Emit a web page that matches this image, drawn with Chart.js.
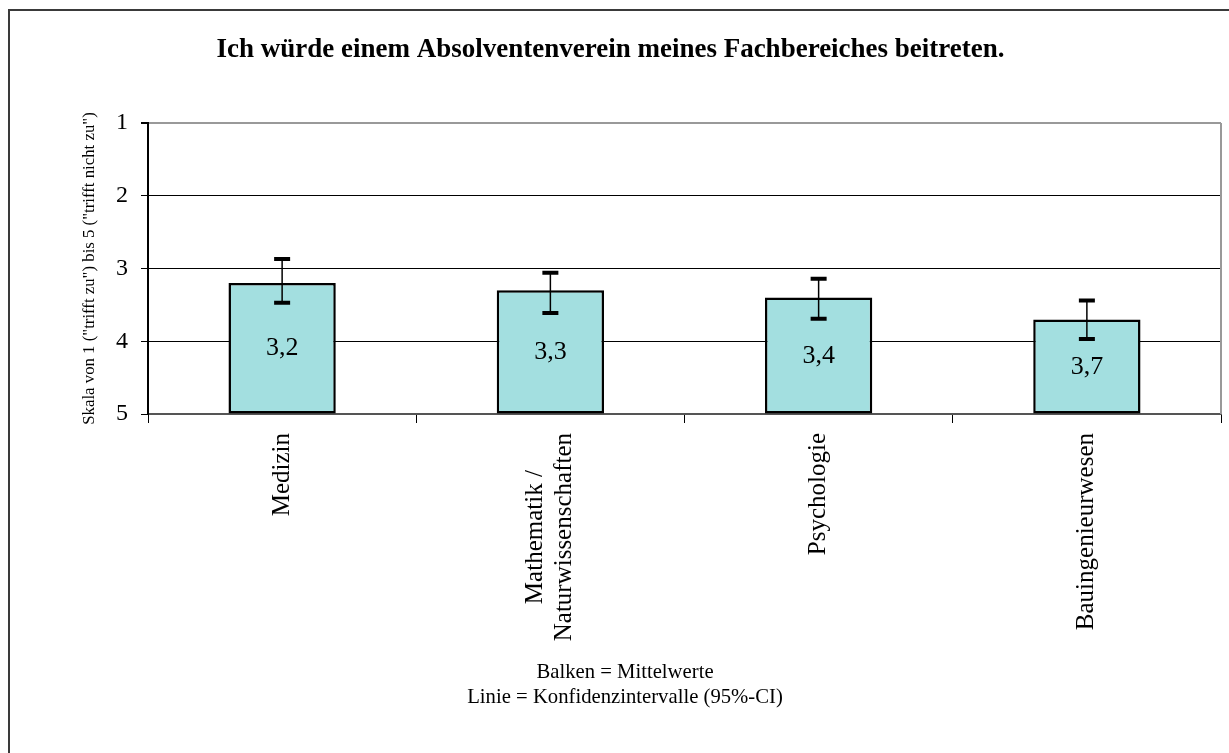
<!DOCTYPE html>
<html>
<head>
<meta charset="utf-8">
<script src="https://cdn.jsdelivr.net/npm/chart.js@4"></script>
<style>
  body { margin: 0; background: #fff; }
</style>
</head>
<body>
<canvas id="meanChart" width="1229" height="753"></canvas>
<script>
// data (scale 1 = "trifft zu", 5 = "trifft nicht zu")
var categories = [["Medizin"], ["Mathematik /", "Naturwissenschaften"], ["Psychologie"], ["Bauingenieurwesen"]];
var means = [3.2, 3.3, 3.4, 3.7];
var ciLow = [2.87, 3.06, 3.14, 3.44];
var ciHigh = [3.47, 3.61, 3.69, 3.97];
var yTicks = [1, 2, 3, 4, 5];
var notes = ["Balken = Mittelwerte", "Linie = Konfidenzintervalle (95%-CI)"];

var serif = "'Liberation Serif', 'Times New Roman', serif";

// error bars, value labels, category labels, notes and the frame
var decor = {
  id: "decor",
  beforeDraw: function(chart) {
    var ctx = chart.ctx;
    ctx.save();
    ctx.strokeStyle = "#3a3a3a";
    ctx.lineWidth = 2;
    ctx.beginPath();
    ctx.moveTo(9, 753);
    ctx.lineTo(9, 10);
    ctx.lineTo(1229, 10);
    ctx.stroke();
    ctx.restore();
  },
  afterDatasetsDraw: function(chart) {
    var ctx = chart.ctx;
    var xs = chart.scales.x, ys = chart.scales.y, area = chart.chartArea;
    ctx.save();

    // right edge of the plot
    ctx.strokeStyle = "#999";
    ctx.lineWidth = 2;
    ctx.beginPath();
    ctx.moveTo(area.right, area.top);
    ctx.lineTo(area.right, area.bottom);
    ctx.stroke();

    ctx.strokeStyle = "#000";
    ctx.fillStyle = "#000";
    means.forEach(function(m, i) {
      var px = xs.getPixelForValue(i);
      var y1 = ys.getPixelForValue(ciLow[i]);
      var y2 = ys.getPixelForValue(ciHigh[i]);
      ctx.lineWidth = 1.5;
      ctx.beginPath();
      ctx.moveTo(px, y1);
      ctx.lineTo(px, y2);
      ctx.stroke();
      ctx.lineWidth = 4;
      ctx.beginPath();
      ctx.moveTo(px - 8, y1); ctx.lineTo(px + 8, y1);
      ctx.moveTo(px - 8, y2); ctx.lineTo(px + 8, y2);
      ctx.stroke();

      // value inside the bar
      var mid = (ys.getPixelForValue(m) + ys.getPixelForValue(5)) / 2;
      ctx.font = "26px " + serif;
      ctx.textAlign = "center";
      ctx.textBaseline = "middle";
      ctx.fillText(m.toFixed(1).replace(".", ","), px, mid);
    });

    // rotated category labels, lines centred on each other
    ctx.font = "25px " + serif;
    categories.forEach(function(lines, i) {
      var px = xs.getPixelForValue(i);
      var w = Math.max.apply(null, lines.map(function(t) { return ctx.measureText(t).width; }));
      ctx.save();
      ctx.translate(px, area.bottom + 19);
      ctx.rotate(-Math.PI / 2);
      ctx.textAlign = "center";
      ctx.textBaseline = "middle";
      lines.forEach(function(t, j) {
        ctx.fillText(t, -w / 2, (j - (lines.length - 1) / 2) * 29);
      });
      ctx.restore();
    });

    // notes below the chart
    ctx.font = "20.7px " + serif;
    ctx.textAlign = "center";
    ctx.textBaseline = "middle";
    notes.forEach(function(t, j) {
      ctx.fillText(t, 625, 673 + j * 25);
    });
    ctx.restore();
  }
};

var ctx = document.getElementById("meanChart").getContext("2d");

var meanChart = new Chart(ctx, {
  type: "bar",
  data: {
    labels: categories,
    datasets: [
      {
        data: means,
        base: 5,
        backgroundColor: "#a3dfe0",
        borderColor: "#000",
        borderWidth: 2.5,
        borderSkipped: false,
        barPercentage: 0.4,
        categoryPercentage: 1
      }
    ]
  },
  options: {
    responsive: false,
    animation: false,
    layout: { padding: { left: 0, right: 8, top: 0, bottom: 0 } },
    plugins: {
      legend: { display: false },
      tooltip: { enabled: false },
      title: {
        display: true,
        text: "Ich würde einem Absolventenverein meines Fachbereiches beitreten.",
        color: "#000",
        font: { family: serif, size: 27, weight: "bold", lineHeight: 1.2 },
        padding: { top: 33.8, bottom: 56.8 }
      }
    },
    scales: {
      x: {
        grid: { offset: true, drawOnChartArea: false, tickLength: 9, color: "#000", lineWidth: 1 },
        border: { color: "#555", width: 2 },
        ticks: { display: false },
        afterFit: function(s) { s.height = 339; }
      },
      y: {
        reverse: true,
        min: 1,
        max: 5,
        afterBuildTicks: function(s) { s.ticks = yTicks.map(function(v) { return { value: v }; }); },
        ticks: { color: "#000", font: { family: serif, size: 24 }, padding: 13 },
        grid: {
          color: function(c) { return c.tick && c.tick.value === 1 ? "#999" : "#000"; },
          lineWidth: function(c) { return c.tick && c.tick.value === 1 ? 2 : 1; },
          tickColor: "#000",
          tickLength: 7
        },
        border: { color: "#000", width: 2 },
        title: {
          display: true,
          text: 'Skala von 1 ("trifft zu") bis 5 ("trifft nicht zu")',
          color: "#000",
          font: { family: serif, size: 16.8, lineHeight: 1.2 },
          padding: { top: 80, bottom: 0 }
        },
        afterFit: function(s) { s.width = 148; }
      }
    }
  },
  plugins: [decor]
});
</script>
</body>
</html>
